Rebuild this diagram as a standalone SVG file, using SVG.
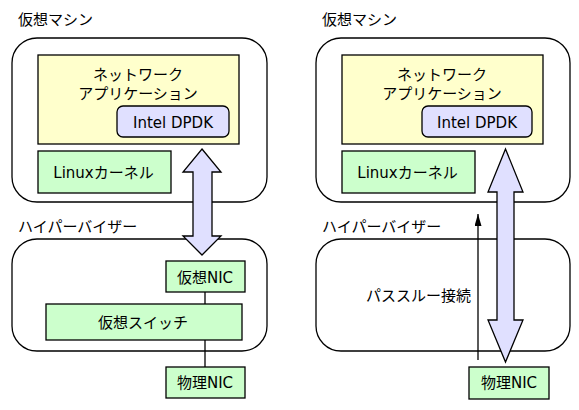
<svg xmlns="http://www.w3.org/2000/svg" width="579" height="410" viewBox="0 0 579 410">
<style>
text{font-family:"DejaVu Sans","Noto Sans CJK JP",sans-serif;font-size:15px;fill:#000}
.mid{text-anchor:middle}
.frame{fill:#fff;stroke:#000;stroke-width:1.3}
.app{fill:#ffffcc;stroke:#000;stroke-width:1.3}
.green{fill:#ccffcc;stroke:#000;stroke-width:1.3}
.dpdk{fill:#e0e0ff;stroke:#000;stroke-width:1.3}
.big{fill:#e0e0ff;stroke:#000;stroke-width:1.3;stroke-linejoin:miter}
.link{stroke:#000;stroke-width:1.3;fill:none}
</style>
<defs>
<marker id="tri" markerWidth="12" markerHeight="7" refX="12" refY="3.5" orient="auto" markerUnits="userSpaceOnUse" viewBox="0 0 12 7">
<path d="M0,0 L12,3.5 L0,7 Z" fill="#000"/>
</marker>
</defs>

<!-- Left side -->
<g id="left-vm-label"><text x="18" y="25">仮想マシン</text></g>
<g id="left-vm"><rect class="frame" x="12" y="38" width="255" height="164" rx="25" ry="25"/></g>
<g id="left-app">
<rect class="app" x="38" y="55" width="201" height="89"/>
<text class="mid" x="138" y="80">ネットワーク</text>
<text class="mid" x="138" y="99">アプリケーション</text>
</g>
<g id="left-dpdk"><rect class="dpdk" x="117" y="106" width="112" height="31" rx="6" ry="6"/><text class="mid" x="173" y="128">Intel DPDK</text></g>
<g id="left-kernel"><rect class="green" x="38" y="151" width="133" height="42"/><text class="mid" x="103.5" y="178">Linuxカーネル</text></g>

<g id="left-hv-label"><text x="18" y="232">ハイパーバイザー</text></g>
<g id="left-hv"><rect class="frame" x="12" y="239" width="255" height="112" rx="25" ry="25"/></g>

<g id="connectors-left">
<line class="link" x1="205" y1="292" x2="205" y2="304"/>
<line class="link" x1="205" y1="340" x2="205" y2="367"/>
</g>

<g id="left-vnic"><rect class="green" x="166" y="261" width="79" height="31"/><text class="mid" x="205" y="283">仮想NIC</text></g>
<g id="left-vswitch"><rect class="green" x="46" y="304" width="196" height="36"/><text class="mid" x="143" y="328">仮想スイッチ</text></g>
<g id="left-pnic"><rect class="green" x="166" y="367" width="79" height="31"/><text class="mid" x="205" y="388">物理NIC</text></g>

<g id="left-bigarrow">
<path class="big" d="M202,149 L221,172 L212,172 L212,236 L221,236 L202,255 L183,236 L193,236 L193,172 L183,172 Z"/>
</g>

<!-- Right side -->
<g id="right-vm-label"><text x="322" y="25">仮想マシン</text></g>
<g id="right-vm"><rect class="frame" x="316" y="38" width="254" height="164" rx="25" ry="25"/></g>
<g id="right-app">
<rect class="app" x="342" y="55" width="201" height="89"/>
<text class="mid" x="442" y="80">ネットワーク</text>
<text class="mid" x="442" y="99">アプリケーション</text>
</g>
<g id="right-dpdk"><rect class="dpdk" x="422" y="106" width="110" height="31" rx="6" ry="6"/><text class="mid" x="477" y="128">Intel DPDK</text></g>
<g id="right-kernel"><rect class="green" x="342" y="151" width="133" height="42"/><text class="mid" x="407.5" y="178">Linuxカーネル</text></g>

<g id="right-hv-label"><text x="322" y="232">ハイパーバイザー</text></g>
<g id="right-hv"><rect class="frame" x="316" y="239" width="254" height="112" rx="25" ry="25"/><text class="mid" x="418.5" y="301">パススルー接続</text></g>

<g id="connectors-right">
<line class="link" x1="478" y1="360" x2="478" y2="214" marker-end="url(#tri)"/>
</g>

<g id="right-pnic"><rect class="green" x="469" y="367" width="80" height="32"/><text class="mid" x="509" y="388">物理NIC</text></g>

<g id="right-bigarrow">
<path class="big" d="M505.5,149 L523,192 L514,192 L514,320 L523,320 L505.5,362 L488,320 L497,320 L497,192 L488,192 Z"/>
</g>
</svg>
